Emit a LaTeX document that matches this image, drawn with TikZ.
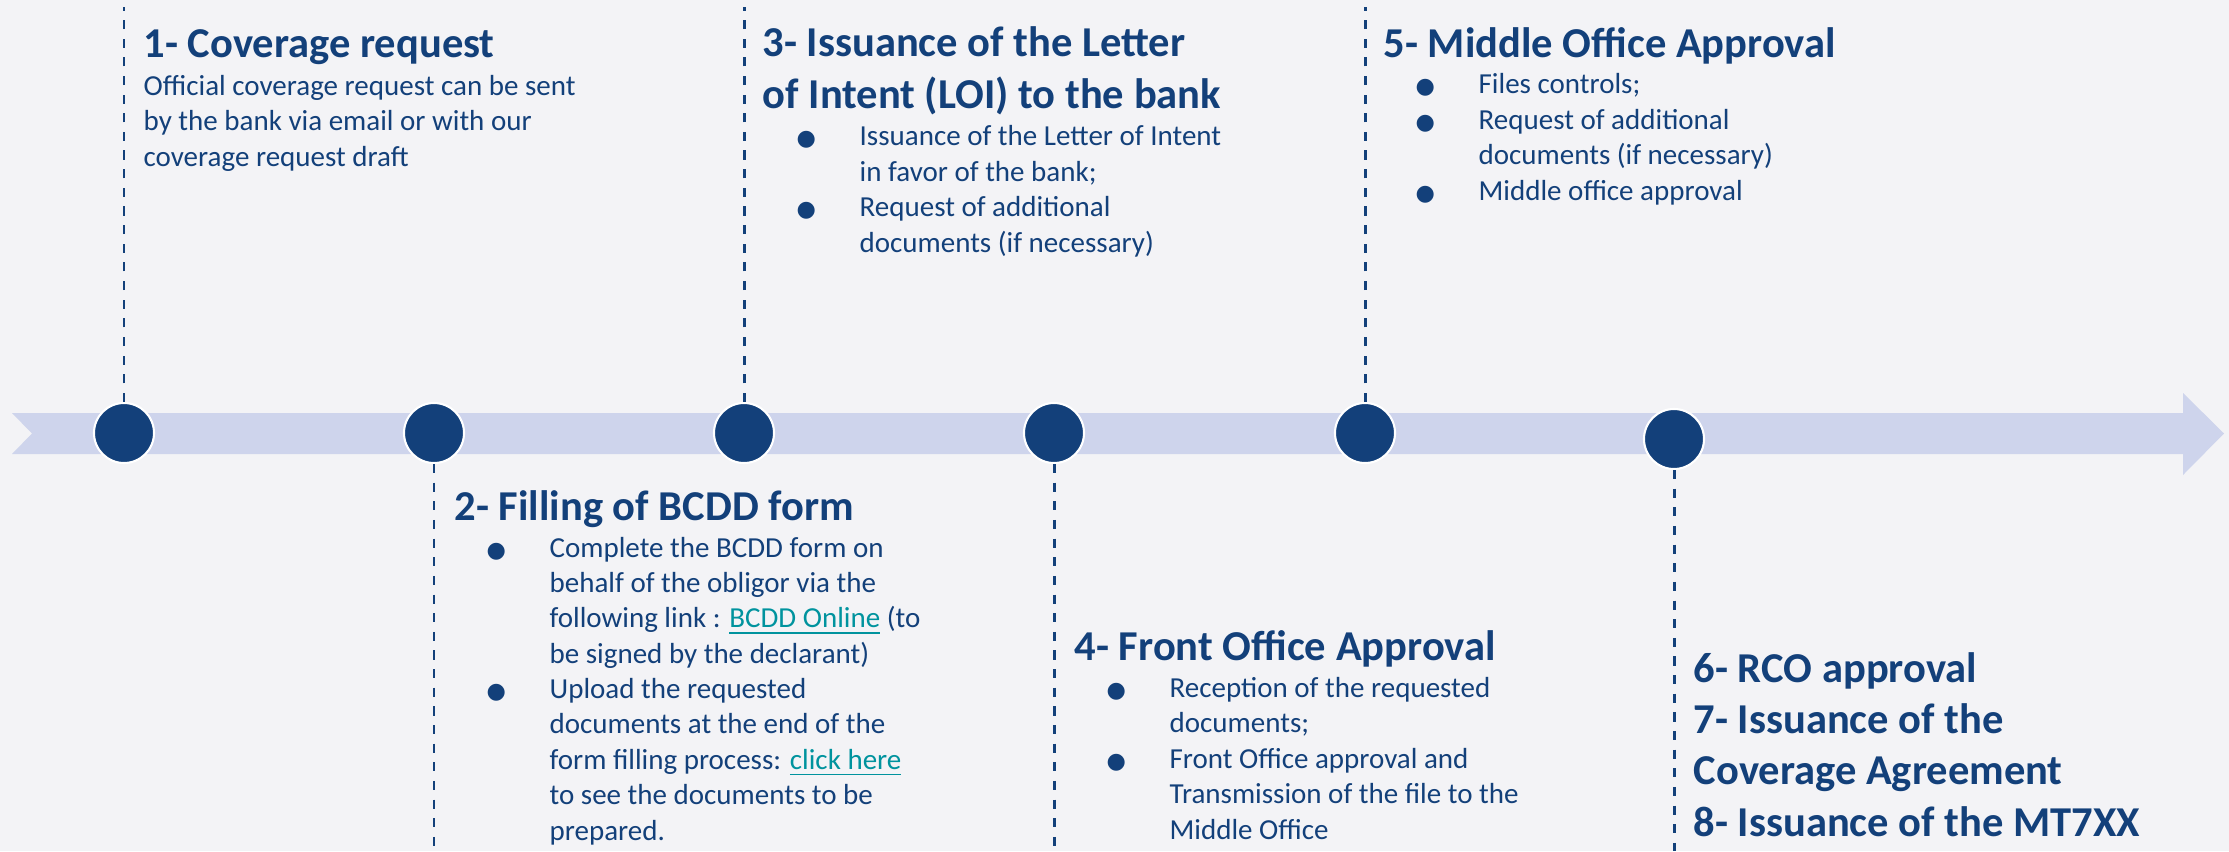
\documentclass[tikz,border=0pt]{standalone}
\usepackage{fontspec}
\setmainfont{Carlito}
\newfontfamily\symfont{DejaVu Sans}
\usetikzlibrary{positioning}
\definecolor{navycol}{HTML}{13407A}
\definecolor{bandcol}{HTML}{CED4EC}
\definecolor{bgcol}{HTML}{F3F3F6}
\definecolor{linkcol}{HTML}{00939E}
\newcommand{\bul}{\makebox[17.9pt][l]{\symfont\fontsize{6.3}{6.3}\selectfont ●}}
\newcommand{\ind}{\hspace*{17.9pt}}
\newcommand{\lnk}[1]{\textcolor{linkcol}{\underline{#1}}}

\begin{document}
\begin{tikzpicture}[
      % GLOBAL CFG
      x=0.01cm, y=-0.01cm,
      % Styles
      stage/.style={% For the milestones
        circle,
        fill=navycol,
        draw=white,
        line width=0.6pt,
        minimum size=0.6cm,
        inner sep=0pt
      },
      guide/.style={% Dashed leader lines
        navycol,
        line width=0.85pt,
        dash pattern=on 2.6pt off 2.7pt
      },
      title/.style={% Step headings (placed at the baseline of their last line)
        anchor=base west,
        inner sep=0pt,
        text=navycol,
        align=left,
        font=\bfseries\fontsize{12.1}{14.55}\selectfont
      },
      body/.style={% Step descriptions (placed at the baseline of their last line)
        anchor=base west,
        inner sep=0pt,
        text=navycol,
        align=left,
        font=\fontsize{8.25}{10.05}\selectfont
      }
      ]

      % Background and band
      \fill [bgcol] (0,0) rectangle (2229,851);
      \useasboundingbox (0,0) rectangle (2229,851);
      \fill [bandcol] (12,413) -- (2183,413) -- (2183,393) -- (2224,433.5)
        -- (2183,475) -- (2183,454) -- (12,454) -- (32,433.5) -- cycle;

      % Milestones
      \node [stage] (s1) at (124,433) {};
      \node [stage] (s2) at (434,433) {};
      \node [stage] (s3) at (744,433) {};
      \node [stage] (s4) at (1054,433) {};
      \node [stage] (s5) at (1365,433) {};
      \node [stage] (s6) at (1674,439) {};

      % Leader lines
      \draw [guide] (s1.north) -- (s1.north |- 0,7);
      \draw [guide] (s3.north) -- (s3.north |- 0,7);
      \draw [guide] (s5.north) -- (s5.north |- 0,7);
      \draw [guide] (s2.south) -- (s2.south |- 0,851);
      \draw [guide] (s4.south) -- (s4.south |- 0,851);
      \draw [guide] (s6.south) -- (s6.south |- 0,851);

      % Upper steps
      \node [title] (t1) at (143,57) {1- Coverage request};
      \node [body] (b1) at (143,166) {Official coverage request can be sent\\
        by the bank via email or with our\\coverage request draft};

      \node [title] (t3) at (762,108) {3- Issuance of the Letter\\of Intent (LOI) to the bank};
      \node [body] (b3) at (796,252) {\bul Issuance of the Letter of Intent\\
        \ind in favor of the bank;\\\bul Request of additional\\
        \ind documents (if necessary)};

      \node [title] (t5) at (1383,57) {5- Middle Office Approval};
      \node [body] (b5) at (1415,200) {\bul Files controls;\\\bul Request of additional\\
        \ind documents (if necessary)\\\bul Middle office approval};

      % Lower steps
      \node [title] (t2) at (454,520) {2- Filling of BCDD form};
      \node [body] (b2) at (486,840) {\bul Complete the BCDD form on\\
        \ind behalf of the obligor via the\\
        \ind following link : \lnk{BCDD Online} (to\\
        \ind be signed by the declarant)\\
        \bul Upload the requested\\
        \ind documents at the end of the\\
        \ind form filling process: \lnk{click here}\\
        \ind to see the documents to be\\
        \ind prepared.};

      \node [title] (t4) at (1074,660) {4- Front Office Approval};
      \node [body] (b4) at (1106,839) {\bul Reception of the requested\\
        \ind documents;\\\bul Front Office approval and\\
        \ind Transmission of the file to the\\\ind Middle Office};

      \node [title] (t6) at (1693,836) {6- RCO approval\\7- Issuance of the\\
        Coverage Agreement\\8- Issuance of the MT7XX};

    \end{tikzpicture}
\end{document}
